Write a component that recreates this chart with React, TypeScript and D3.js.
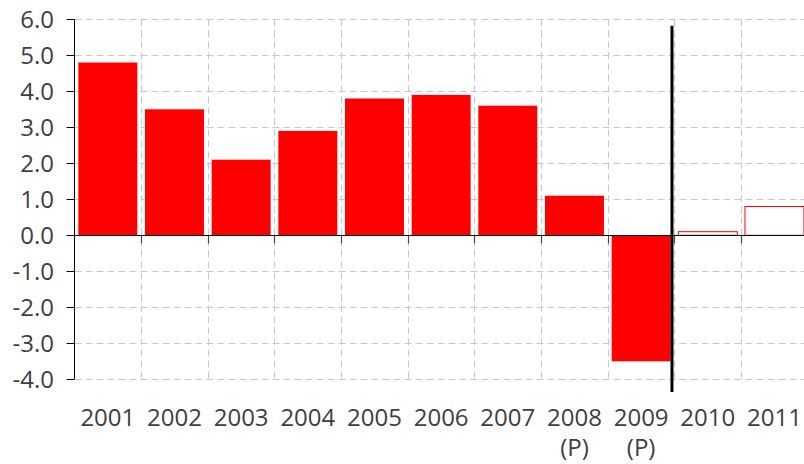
import React, { useEffect, useRef } from "react";
import * as d3 from "d3";

const years = ["2001", "2002", "2003", "2004", "2005", "2006", "2007", "2008", "2009", "2010", "2011"];
const subLabels = ["", "", "", "", "", "", "", "(P)", "(P)", "", ""];
const growth = [4.8, 3.5, 2.1, 2.9, 3.8, 3.9, 3.6, 1.1, -3.5, 0.1, 0.8];
const forecast = [false, false, false, false, false, false, false, false, false, true, true];
const yTicks = [6, 5, 4, 3, 2, 1, 0, -1, -2, -3, -4];

const W = 804;
const H = 464;

const App = () => {
  const ref = useRef<SVGSVGElement>(null);

  useEffect(() => {
    const svg = d3.select(ref.current);
    svg.selectAll("*").remove();

    const left = 74.5;
    const right = 807.8;
    const top = 19.3;
    const bottom = 379.3;

    const x = d3.scaleBand().domain(years).range([left, right]).padding(0);
    const y = d3.scaleLinear().domain([-4, 6]).range([bottom, top]);
    const inset = 3.85;

    const g = svg.append("g");

    // grid
    const grid = g.append("g")
      .attr("stroke", "#c8c8c8")
      .attr("stroke-width", 1)
      .attr("stroke-dasharray", "7,4");

    grid.selectAll("line.h")
      .data(yTicks)
      .join("line")
      .attr("class", "h")
      .attr("x1", left)
      .attr("x2", right)
      .attr("y1", d => Math.round(y(d)) + 0.5)
      .attr("y2", d => Math.round(y(d)) + 0.5);

    grid.selectAll("line.v")
      .data(years.slice(1))
      .join("line")
      .attr("class", "v")
      .attr("x1", d => Math.round(x(d)!) + 0.5)
      .attr("x2", d => Math.round(x(d)!) + 0.5)
      .attr("y1", top)
      .attr("y2", bottom);

    // bars
    g.append("g")
      .selectAll("rect")
      .data(years)
      .join("rect")
      .attr("x", d => x(d)! + inset)
      .attr("width", x.bandwidth() - 2 * inset)
      .attr("y", (d, i) => y(Math.max(0, growth[i])))
      .attr("height", (d, i) => Math.abs(y(growth[i]) - y(0)))
      .attr("fill", (d, i) => (forecast[i] ? "#ffffff" : "#ff0000"))
      .attr("stroke", (d, i) => (forecast[i] ? "#ff0000" : "none"))
      .attr("stroke-width", 1);

    // zero line and ticks
    const y0 = Math.round(y(0)) + 0.5;
    g.append("line")
      .attr("x1", left)
      .attr("x2", right)
      .attr("y1", y0)
      .attr("y2", y0)
      .attr("stroke", "#000")
      .attr("stroke-width", 1.2);

    g.append("g")
      .selectAll("line")
      .data(years.slice(1))
      .join("line")
      .attr("x1", d => Math.round(x(d)!) + 0.5)
      .attr("x2", d => Math.round(x(d)!) + 0.5)
      .attr("y1", y0)
      .attr("y2", y0 + 8)
      .attr("stroke", "#444")
      .attr("stroke-width", 1.2);

    // y axis
    g.append("line")
      .attr("x1", left)
      .attr("x2", left)
      .attr("y1", top)
      .attr("y2", bottom)
      .attr("stroke", "#000")
      .attr("stroke-width", 1);

    const yAxis = g.append("g");
    yAxis.selectAll("line")
      .data(yTicks)
      .join("line")
      .attr("x1", left - 8)
      .attr("x2", left)
      .attr("y1", d => Math.round(y(d)) + 0.5)
      .attr("y2", d => Math.round(y(d)) + 0.5)
      .attr("stroke", "#000");

    yAxis.selectAll("text")
      .data(yTicks)
      .join("text")
      .attr("x", 54)
      .attr("y", d => y(d))
      .attr("dy", "0.35em")
      .attr("text-anchor", "end")
      .attr("fill", "#404040")
      .style("font", "24px 'Open Sans', 'Noto Sans', sans-serif")
      .text(d => d.toFixed(1));

    // x labels
    const xl = g.append("g")
      .attr("fill", "#404040")
      .style("font", "24px 'Open Sans', 'Noto Sans', sans-serif")
      .attr("text-anchor", "middle");

    xl.selectAll("text.yr")
      .data(years)
      .join("text")
      .attr("class", "yr")
      .attr("x", d => x(d)! + x.bandwidth() / 2)
      .attr("y", 426)
      .text(d => d);

    xl.selectAll("text.sub")
      .data(years.map((d, i) => ({ d, s: subLabels[i] })).filter(o => o.s))
      .join("text")
      .attr("class", "sub")
      .attr("x", o => x(o.d)! + x.bandwidth() / 2)
      .attr("y", 456)
      .text(o => o.s);

    // divider between actual and forecast
    const divX = x("2010")! - 2.5;
    g.append("line")
      .attr("x1", divX)
      .attr("x2", divX)
      .attr("y1", 25.7)
      .attr("y2", 392)
      .attr("stroke", "#000")
      .attr("stroke-width", 3);
  }, []);

  return (
    <svg
      ref={ref}
      width={W}
      height={H}
      style={{ position: "absolute", left: 0, top: 0, display: "block" }}
    />
  );
};

export default App;
